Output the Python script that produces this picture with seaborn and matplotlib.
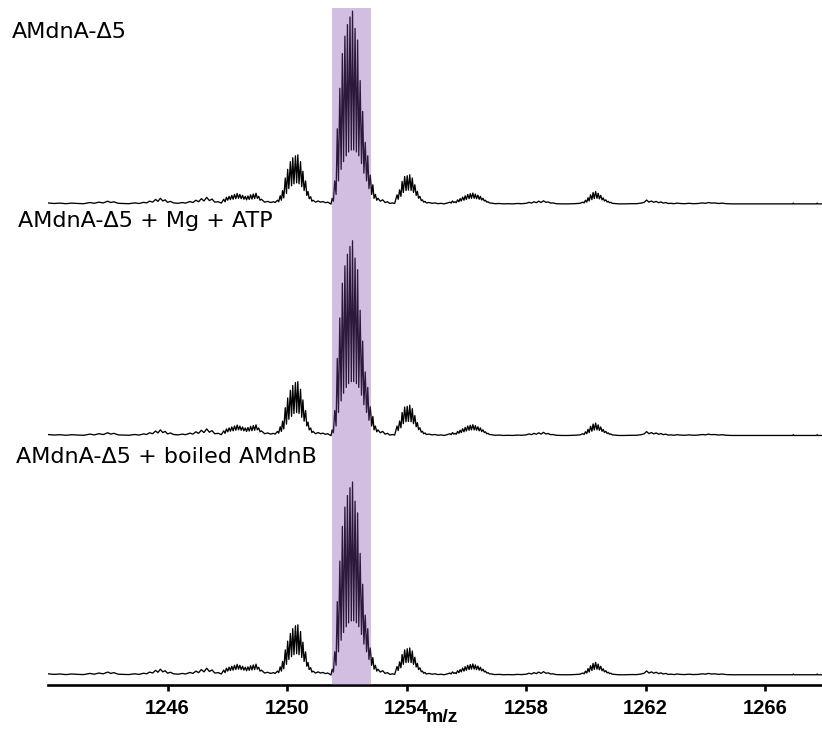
import numpy as np
import pandas as pd
import seaborn as sns
import matplotlib.pyplot as plt

# shared low-level regions (m/z, relative intensity)
mz_a = [1242.0, 1242.2, 1242.4, 1242.6, 1242.8, 1243.0, 1243.2, 1243.4, 1243.55, 1243.7, 1243.85,
        1244.0, 1244.1, 1244.2, 1244.35, 1244.5, 1244.7, 1244.9, 1245.05, 1245.2, 1245.3, 1245.4,
        1245.5, 1245.6, 1245.68, 1245.76, 1245.84, 1245.92, 1246.0, 1246.1, 1246.2, 1246.35, 1246.5,
        1246.6, 1246.75, 1246.85, 1246.95, 1247.04, 1247.13, 1247.22, 1247.31, 1247.4, 1247.49,
        1247.58, 1247.7, 1247.8]
int_a = [0.6, 0.3, 0.5, 0.2, 0.5, 0.3, 0.2, 0.8, 0.4, 1.0, 0.6, 1.5, 0.8, 1.2, 0.4, 0.3, 0.2, 0.6,
         0.3, 0.9, 0.6, 1.5, 1.0, 2.4, 1.4, 3.0, 1.6, 2.2, 0.9, 1.4, 0.6, 0.4, 0.8, 0.5, 1.3, 0.8,
         2.0, 1.2, 2.8, 1.6, 3.5, 1.8, 2.6, 1.0, 1.2, 0.5]

mz_b = [1247.88, 1247.925, 1247.97, 1248.015, 1248.06, 1248.105, 1248.15, 1248.195, 1248.24,
        1248.285, 1248.33, 1248.375, 1248.42, 1248.465, 1248.51, 1248.555, 1248.60, 1248.645,
        1248.69, 1248.735, 1248.78, 1248.825, 1248.87, 1248.915, 1248.96, 1249.005, 1249.05,
        1249.095, 1249.14, 1249.25, 1249.35, 1249.45, 1249.55]
int_b = [2.5, 1.2, 3.5, 2.0, 4.0, 2.3, 4.5, 2.5, 5.0, 2.8, 5.5, 3.0, 5.0, 2.8, 4.5, 2.5, 4.0, 2.2,
         4.2, 2.4, 4.8, 2.6, 5.2, 2.8, 5.6, 3.0, 4.0, 2.0, 2.5, 1.0, 1.4, 0.8, 1.2]

# cluster around 1250.3
mz_left = [1249.60, 1249.68, 1249.72, 1249.77, 1249.81, 1249.85, 1249.89, 1249.94, 1249.98,
           1250.02, 1250.06, 1250.11, 1250.15, 1250.19, 1250.23, 1250.28, 1250.32, 1250.36,
           1250.40, 1250.45, 1250.49, 1250.53, 1250.57, 1250.62, 1250.66, 1250.70, 1250.74,
           1250.79, 1250.83, 1250.87, 1250.95]
left_top = [0.8, 2.0, 1.2, 4.3, 2.0, 7.0, 3.2, 13.5, 5.5, 18.0, 8.0, 22.0, 9.5, 24.0, 10.5, 25.0,
            11.0, 25.5, 10.5, 22.0, 9.0, 17.0, 7.0, 12.0, 4.5, 6.5, 2.8, 3.8, 1.5, 2.0, 1.0]
left_mid = [0.8, 2.2, 1.3, 4.6, 2.2, 7.5, 3.5, 14.5, 6.0, 19.5, 8.5, 23.5, 10.0, 26.0, 11.5, 27.5,
            12.0, 28.0, 11.5, 24.0, 9.5, 18.5, 7.5, 13.0, 5.0, 7.0, 3.0, 4.0, 1.6, 2.2, 1.0]
left_bot = [0.8, 2.0, 1.2, 4.2, 2.0, 7.0, 3.2, 13.0, 5.5, 17.5, 8.0, 21.5, 9.5, 24.0, 10.5, 25.5,
            11.0, 26.0, 10.5, 22.5, 9.0, 17.0, 7.0, 12.0, 4.5, 6.5, 2.8, 3.8, 1.5, 2.0, 1.0]

mz_gap = [1251.04, 1251.12, 1251.20, 1251.28, 1251.36, 1251.44]
int_gap = [1.6, 1.0, 1.3, 0.7, 1.0, 0.3]

# main cluster around 1252.2
mz_main = [1251.47, 1251.51, 1251.55, 1251.595, 1251.64, 1251.68, 1251.72, 1251.765, 1251.81,
           1251.85, 1251.89, 1251.935, 1251.98, 1252.02, 1252.06, 1252.105, 1252.15, 1252.19,
           1252.23, 1252.275, 1252.32, 1252.36, 1252.40, 1252.445, 1252.49, 1252.53, 1252.57,
           1252.615, 1252.66, 1252.70, 1252.74, 1252.785, 1252.83, 1252.87, 1252.91, 1252.955,
           1253.0, 1253.04]
main_top = [0.0, 3.0, 1.5, 12.0, 5.0, 39.0, 12.0, 60.0, 18.0, 78.0, 22.0, 87.0, 25.0, 93.0, 27.0,
            97.0, 28.0, 100.0, 28.0, 91.0, 27.0, 85.0, 25.0, 64.0, 21.0, 48.0, 16.0, 32.0, 12.0,
            25.0, 8.0, 15.0, 5.0, 10.0, 3.0, 5.0, 2.0, 3.0]
main_mid = [0.0, 3.0, 1.5, 13.0, 5.0, 40.0, 12.0, 61.0, 18.0, 79.0, 22.0, 88.0, 25.0, 94.0, 27.0,
            98.0, 28.0, 101.0, 28.0, 92.0, 27.0, 86.0, 25.0, 65.0, 21.0, 49.0, 16.0, 33.0, 12.0,
            25.0, 8.0, 15.0, 5.0, 10.0, 3.0, 5.0, 2.0, 3.0]
main_bot = [0.0, 3.0, 1.5, 12.0, 5.0, 38.0, 12.0, 59.0, 18.0, 77.0, 22.0, 87.0, 25.0, 93.0, 27.0,
            97.0, 28.0, 100.0, 28.0, 90.0, 27.0, 84.0, 25.0, 63.0, 21.0, 47.0, 16.0, 31.0, 12.0,
            24.0, 8.0, 14.0, 5.0, 9.0, 3.0, 5.0, 2.0, 3.0]

mz_gap2 = [1253.12, 1253.2, 1253.28, 1253.36, 1253.44, 1253.52, 1253.6]
int_gap2 = [1.5, 2.2, 0.8, 1.2, 0.3, 0.6, 0.3]

# cluster around 1254.1
mz_right = [1253.68, 1253.72, 1253.765, 1253.81, 1253.85, 1253.89, 1253.935, 1253.98, 1254.02,
            1254.06, 1254.105, 1254.15, 1254.19, 1254.23, 1254.275, 1254.32, 1254.36, 1254.40,
            1254.445, 1254.49, 1254.53, 1254.57, 1254.615, 1254.66]
right_top = [4.8, 2.5, 7.4, 4.0, 11.7, 6.0, 14.3, 7.0, 14.7, 7.2, 15.2, 7.0, 13.5, 6.0, 10.0, 4.5,
             6.6, 3.0, 4.0, 1.8, 2.2, 1.0, 1.4, 0.6]
right_mid = [5.0, 2.6, 7.6, 4.1, 12.0, 6.2, 14.8, 7.2, 15.2, 7.4, 15.8, 7.2, 14.0, 6.2, 10.4, 4.6,
             6.8, 3.1, 4.1, 1.8, 2.3, 1.0, 1.4, 0.6]
right_bot = [4.4, 2.3, 6.8, 3.7, 10.6, 5.5, 13.0, 6.4, 13.6, 6.6, 14.0, 6.4, 12.4, 5.5, 9.2, 4.1,
             6.0, 2.8, 3.7, 1.7, 2.0, 0.9, 1.3, 0.5]

mz_c = [1254.75, 1254.85, 1254.95, 1255.05, 1255.15, 1255.25, 1255.35]
int_c = [0.8, 0.4, 0.6, 0.2, 0.4, 0.1, 0.5]

mz_d = [1255.45, 1255.49, 1255.535, 1255.58, 1255.62, 1255.66, 1255.705, 1255.75, 1255.79,
        1255.83, 1255.875, 1255.92, 1255.96, 1256.0, 1256.045, 1256.09, 1256.13, 1256.17,
        1256.215, 1256.26, 1256.30, 1256.34, 1256.385, 1256.43, 1256.47, 1256.51, 1256.555,
        1256.60, 1256.64, 1256.68, 1256.725, 1256.77]
int_d = [1.0, 0.5, 1.6, 0.8, 1.2, 0.7, 2.2, 1.2, 2.8, 1.6, 3.6, 2.0, 4.3, 2.4, 5.0, 2.8, 5.4, 3.0,
         5.7, 3.0, 5.2, 2.8, 4.6, 2.5, 4.0, 2.1, 3.0, 1.6, 2.0, 1.0, 1.2, 0.6]

mz_e = [1256.85, 1256.95, 1257.1, 1257.25, 1257.4, 1257.55, 1257.7, 1257.85, 1258.0, 1258.1,
        1258.18, 1258.26, 1258.34, 1258.42, 1258.5, 1258.58, 1258.66, 1258.74, 1258.82, 1258.9,
        1259.0, 1259.2, 1259.4, 1259.6, 1259.8]
int_e = [0.5, 0.2, 0.3, 0.1, 0.2, 0.1, 0.3, 0.2, 0.4, 0.9, 0.5, 1.2, 0.7, 1.5, 0.8, 1.7, 0.9, 1.1,
         0.5, 0.6, 0.2, 0.1, 0.1, 0.2, 0.4]

mz_f = [1259.90, 1259.94, 1259.985, 1260.03, 1260.07, 1260.11, 1260.155, 1260.20, 1260.24,
        1260.28, 1260.325, 1260.37, 1260.41, 1260.45, 1260.495, 1260.54, 1260.58, 1260.62,
        1260.665, 1260.71, 1260.75, 1260.79, 1260.835, 1260.88]
int_f = [1.0, 0.6, 2.0, 1.0, 3.3, 1.6, 4.8, 2.3, 6.0, 2.9, 6.5, 3.0, 5.6, 2.7, 4.5, 2.2, 3.2, 1.6,
         2.2, 1.1, 1.4, 0.7, 0.9, 0.4]

mz_g = [1260.95, 1261.1, 1261.3, 1261.5, 1261.7, 1261.85, 1261.95, 1262.03, 1262.11, 1262.19,
        1262.27, 1262.35, 1262.43, 1262.51, 1262.59, 1262.67, 1262.75, 1262.85, 1262.95, 1263.05,
        1263.15, 1263.3, 1263.45, 1263.6, 1263.75, 1263.9, 1264.0, 1264.1, 1264.2, 1264.3,
        1264.45, 1264.55, 1264.7, 1264.9, 1265.5, 1266.5, 1266.92, 1266.94, 1266.96, 1267.72,
        1267.74, 1267.76, 1267.9]
int_g = [0.3, 0.1, 0.1, 0.2, 0.2, 0.5, 0.9, 2.1, 1.0, 1.6, 0.9, 1.4, 0.7, 1.1, 0.5, 0.8, 0.3, 0.4,
         0.2, 0.5, 0.3, 0.2, 0.4, 0.2, 0.3, 0.6, 0.4, 0.8, 0.5, 0.6, 0.3, 0.5, 0.2, 0.1, 0.1, 0.1,
         0.1, 0.5, 0.1, 0.1, 0.5, 0.1, 0.1]

labels = ["AMdnA-\u03945", "AMdnA-\u03945 + Mg + ATP", "AMdnA-\u03945 + boiled AMdnB"]
highlight = (1251.49, 1252.82)
xticks = [1246, 1250, 1254, 1258, 1262, 1266]

mz = mz_a + mz_b + mz_left + mz_gap + mz_main + mz_gap2 + mz_right + mz_c + mz_d + mz_e + mz_f + mz_g
spectra = {
    labels[0]: (left_top, main_top, right_top, 244),
    labels[1]: (left_mid, main_mid, right_mid, 124),
    labels[2]: (left_bot, main_bot, right_bot, 0),
}

sns.set_style("ticks")
W, H = 822, 731
fig = plt.figure(figsize=(W / 100, H / 100), dpi=100)
ax = fig.add_axes([48 / W, 1 - 685 / H, 774 / W, 677 / H])

for name, (lft, mn, rgt, off) in spectra.items():
    inten = int_a + int_b + lft + int_gap + mn + int_gap2 + rgt + int_c + int_d + int_e + int_f + int_g
    df = pd.DataFrame({"mz": mz, "y": np.array(inten) + off})
    sns.lineplot(data=df, x="mz", y="y", ax=ax, color="black", lw=0.95,
                 estimator=None, sort=False)

ax.axvspan(*highlight, color="#8047ab", alpha=0.35, lw=0, zorder=3)

narrow = ["Liberation Sans Narrow", "Liberation Sans"]
ax.set_xlim(1242.0, 1267.9)
ax.set_ylim(-5.2, 345.6)
ax.set_yticks([])
ax.set_ylabel("")
ax.set_xticks(xticks)
for s in ["left", "top", "right"]:
    ax.spines[s].set_visible(False)
ax.spines["bottom"].set_linewidth(1.9)
ax.spines["bottom"].set_color("black")
ax.tick_params(axis="x", direction="out", length=4, width=1.9, pad=6,
               color="black", labelcolor="black")
for t in ax.get_xticklabels():
    t.set_fontfamily(narrow)
    t.set_fontweight("bold")
    t.set_fontsize(14.5)
ax.set_xlabel("m/z", family=narrow, fontweight="bold", fontsize=14, color="black")
ax.xaxis.set_label_coords((442 - 48) / 774, -0.036)
ax.xaxis.label.set_va("top")

pos = [(12, 38), (18, 227), (16, 463)]
for (px, py), txt in zip(pos, labels):
    fig.text(px / W, 1 - py / H, txt, ha="left", va="baseline",
             family=["DejaVu Sans"], fontsize=16, color="black")

fig.savefig("out.png", dpi=100)
